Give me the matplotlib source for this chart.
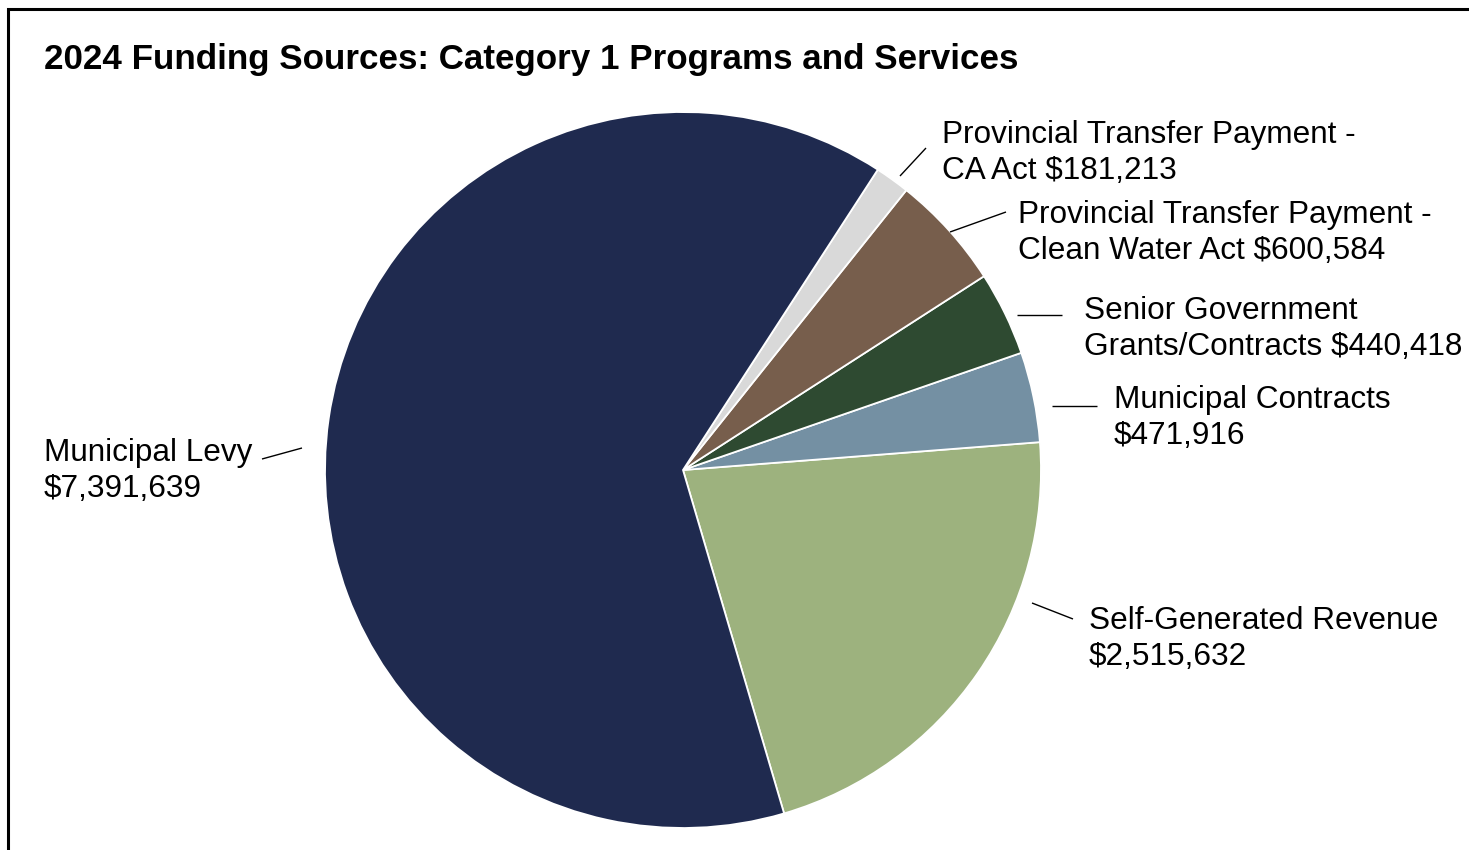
"""
2024 Funding Sources pie chart (Category 1 Programs and Services).
"""

import matplotlib

matplotlib.use('Agg')
import matplotlib.pyplot as plt
from matplotlib.patches import Rectangle

# --- data -------------------------------------------------------------------
categories = [
    'Self-Generated Revenue',
    'Municipal Contracts',
    'Senior Government\nGrants/Contracts',
    'Provincial Transfer Payment -\nClean Water Act',
    'Provincial Transfer Payment -\nCA Act',
    'Municipal Levy',
]
amounts = [2515632, 471916, 440418, 600584, 181213, 7391639]
slice_colors = ['#9DB27E', '#7490A3', '#2E4A31', '#775E4C', '#D9D9D9', '#1F2A4F']
label_text = [
    'Self-Generated Revenue\n$2,515,632',
    'Municipal Contracts\n$471,916',
    'Senior Government\nGrants/Contracts $440,418',
    'Provincial Transfer Payment -\nClean Water Act $600,584',
    'Provincial Transfer Payment -\nCA Act $181,213',
    'Municipal Levy\n$7,391,639',
]
title = '2024 Funding Sources: Category 1 Programs and Services'

# --- layout (pixel positions of the original image, y measured from top) -----
W, H = 1469, 850
center_px = (683, 470)
radius_px = 358
start_angle = -73.6
# text anchor (left, vertical centre) and leader line ends
text_pos = [(1089, 639), (1114, 418), (1084, 329), (1018, 233), (942, 153), (44, 471)]
leader = [
    ((1032, 603), (1073, 619)),
    ((1052, 406), (1097, 406)),
    ((1017, 315), (1062, 315)),
    ((950, 232), (1006, 212)),
    ((900, 176), (926, 148)),
    ((302, 448), (262, 459)),
]

plt.rcParams['font.family'] = ['Liberation Sans', 'DejaVu Sans']

fig = plt.figure(figsize=(W / 100, H / 100), dpi=100)
ax = fig.add_axes((0.0, 0.0, 1.0, 1.0))


def py(y):
    """image y (from top) -> data y (from bottom)"""
    return H - y


ax.pie(
    amounts,
    colors=slice_colors,
    startangle=start_angle,
    counterclock=True,
    center=(center_px[0], py(center_px[1])),
    radius=radius_px,
    wedgeprops=dict(edgecolor='white', linewidth=1.3),
    frame=True,
)
ax.set_xlim(0, W)
ax.set_ylim(0, H)
ax.set_aspect('equal')
ax.set_axis_off()

for txt, (tx, ty), ((x0, y0), (x1, y1)) in zip(label_text, text_pos, leader):
    ax.text(tx, py(ty), txt, ha='left', va='center', fontsize=22.7,
            linespacing=1.27, color='black')
    ax.plot([x0, x1], [py(y0), py(y1)], color='black', lw=1.0,
            solid_capstyle='butt')

fig.text(44 / W, 1 - 59 / H, title, ha='left', va='center',
         fontsize=25.2, fontweight='bold', color='black')

# outer frame (cut off at right and bottom like the source)
fig.patches.append(Rectangle((8 / W, -0.1), 1.2, (1 - 9 / H) + 0.1,
                             transform=fig.transFigure, fill=False,
                             edgecolor='black', linewidth=2.2))

fig.savefig('out.png', dpi=100, facecolor='white')
plt.close(fig)
